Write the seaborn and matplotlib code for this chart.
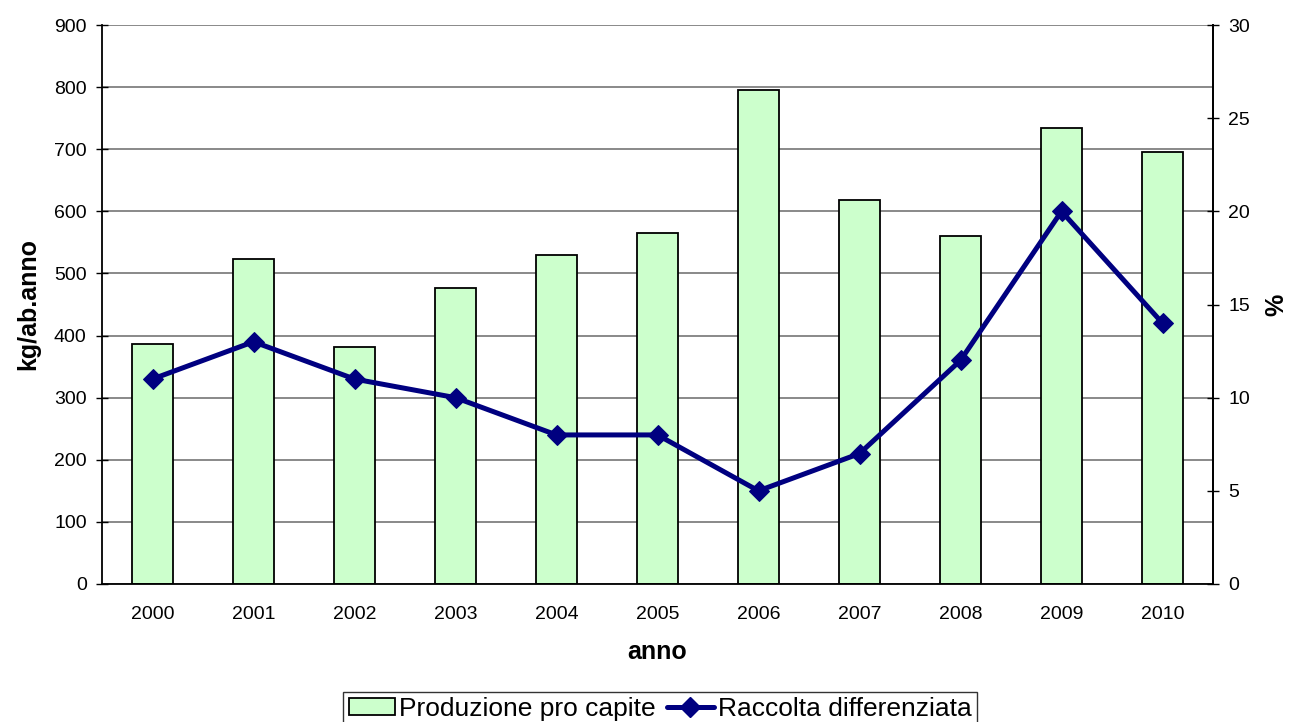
import numpy as np
import pandas as pd
import matplotlib
matplotlib.use("Agg")
import matplotlib.pyplot as plt
from matplotlib.patches import Patch
from matplotlib.lines import Line2D
import seaborn as sns

years = ["2000", "2001", "2002", "2003", "2004", "2005", "2006", "2007", "2008", "2009", "2010"]
produzione = [387, 523, 382, 477, 529, 565, 795, 619, 560, 734, 696]
raccolta = [11, 13, 11, 10, 8, 8, 5, 7, 12, 20, 14]

sns.set_theme(style="white", rc={"text.color": "black", "axes.labelcolor": "black",
                                 "xtick.color": "black", "ytick.color": "black"})
plt.rcParams["font.family"] = ["Liberation Sans", "DejaVu Sans"]

BAR_GREEN = "#CCFFCC"
NAVY = "#000080"

df = pd.DataFrame({"anno": years, "prod": produzione, "rd": raccolta})

W, H = 1290, 722
fig = plt.figure(figsize=(W / 100, H / 100), dpi=100)
ax = fig.add_axes([102 / W, 1 - 584 / H, (1213 - 102) / W, (584 - 25) / H])

sns.barplot(data=df, x="anno", y="prod", ax=ax, color=BAR_GREEN,
            edgecolor="black", linewidth=1.3, width=0.4, saturation=1)

ax.set_ylim(0, 900)
ax.set_xlim(-0.5, len(years) - 0.5)
ax.set_yticks(np.arange(0, 901, 100))
ax.yaxis.grid(True, color="#808080", linewidth=1.3)
ax.set_axisbelow(True)
ax.spines["top"].set_visible(False)
for s in ["left", "bottom", "right"]:
    ax.spines[s].set_color("black")
    ax.spines[s].set_linewidth(1.3)

# category labels centred, tick marks between categories
ax.set_xticks(np.arange(len(years)))
ax.set_xticklabels(years, fontsize=14)
ax.tick_params(axis="x", which="major", length=0, pad=16)
ax.set_xticks(np.arange(-0.5, len(years) + 0.5, 1), minor=True)
ax.tick_params(axis="x", which="minor", length=8, width=1, color="black", direction="inout")
ax.tick_params(axis="y", length=8, width=1, color="black", direction="inout",
               labelsize=14, pad=7, left=True)

ax.set_xlabel("anno", fontsize=18, fontweight="bold", labelpad=12)
ax.set_ylabel("kg/ab.anno", fontsize=18, fontweight="bold", labelpad=10)

ax2 = ax.twinx()
sns.lineplot(x=np.arange(len(years)), y=raccolta, ax=ax2, color=NAVY,
             linewidth=3.6, marker="D", markersize=10, markeredgecolor=NAVY)
ax2.set_ylim(0, 30)
ax2.set_yticks(np.arange(0, 31, 5))
ax2.tick_params(axis="y", length=8, width=1, color="black", direction="inout",
                labelsize=14, pad=7, right=True)
ax2.set_ylabel("%", fontsize=18, fontweight="bold", labelpad=10)
for s in ["top", "left", "bottom"]:
    ax2.spines[s].set_visible(False)
ax2.spines["right"].set_color("black")
ax2.spines["right"].set_linewidth(1.3)
ax2.grid(False)

handles = [
    Patch(facecolor=BAR_GREEN, edgecolor="black", linewidth=1.3),
    Line2D([0], [0], color=NAVY, linewidth=3.6, marker="D", markersize=10),
]
leg = fig.legend(handles, ["Produzione pro capite", "Raccolta differenziata"],
                 loc="lower center", bbox_to_anchor=(660 / W, -0.006), ncol=2, fontsize=19,
                 frameon=True, fancybox=False, edgecolor="black", borderpad=0.2,
                 handlelength=1.75, handleheight=0.6, handletextpad=0.15,
                 columnspacing=0.45, borderaxespad=0.0)
leg.get_frame().set_linewidth(1.0)

fig.savefig("out.png", dpi=100, facecolor="white")
